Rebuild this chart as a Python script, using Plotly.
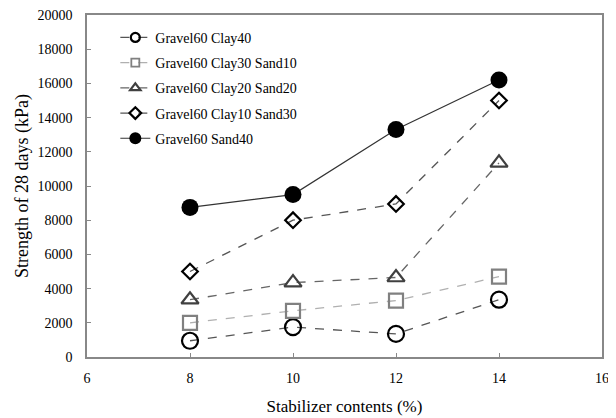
import plotly.graph_objects as go

x_vals = [8, 10, 12, 14]
clay40 = [950, 1750, 1350, 3350]
clay30_sand10 = [2000, 2700, 3300, 4700]
clay20_sand20 = [3350, 4350, 4650, 11350]
clay10_sand30 = [5000, 8000, 8950, 15000]
sand40 = [8750, 9500, 13300, 16200]

names = ["Gravel60 Clay40", "Gravel60 Clay30 Sand10", "Gravel60 Clay20 Sand20",
         "Gravel60 Clay10 Sand30", "Gravel60 Sand40"]
x_ticks = [6, 8, 10, 12, 14, 16]
y_ticks = [0, 2000, 4000, 6000, 8000, 10000, 12000, 14000, 16000, 18000, 20000]
y_ticktext = [str(v) for v in y_ticks]

series = [clay40, clay30_sand10, clay20_sand20, clay10_sand30, sand40]
line_styles = [
    dict(color="#555555", width=1.3, dash="dash"),
    dict(color="#b0b0b0", width=1.3, dash="dash"),
    dict(color="#666666", width=1.3, dash="dash"),
    dict(color="#555555", width=1.3, dash="dash"),
    dict(color="#333333", width=1.2),
]
marker_styles = [
    dict(symbol="circle-open", size=16, color="#000000", line=dict(width=2.2)),
    dict(symbol="square-open", size=14, color="#808080", line=dict(width=2.2)),
    dict(symbol="triangle-up-open", size=15, color="#404040", line=dict(width=2.2)),
    dict(symbol="diamond-open", size=12, color="#000000", line=dict(width=2.2)),
    dict(symbol="circle", size=17, color="#000000"),
]
legend_markers = [
    dict(symbol="circle-open", size=9, color="#000000", line=dict(width=2.2)),
    dict(symbol="square-open", size=8, color="#808080", line=dict(width=1.8)),
    dict(symbol="triangle-up-open", size=9, color="#404040", line=dict(width=2.2)),
    dict(symbol="diamond-open", size=9, color="#000000", line=dict(width=2.2)),
    dict(symbol="circle", size=12, color="#000000"),
]

fig = go.Figure()
for i, (name, ys) in enumerate(zip(names, series)):
    fig.add_trace(go.Scatter(x=x_vals, y=ys, name=name, mode="lines+markers",
                             line=line_styles[i], marker=marker_styles[i],
                             showlegend=False, legendgroup=f"g{i}"))
for i, name in enumerate(names):
    fig.add_trace(go.Scatter(x=[None], y=[None], name=name, mode="lines+markers",
                             line=line_styles[i], marker=legend_markers[i],
                             showlegend=True, legendgroup=f"g{i}"))

font = "Liberation Serif, Times New Roman, serif"
# page body has an 8px margin: compensate in figure size and margins
fig.update_layout(
    width=608, height=410,
    margin=dict(l=79, r=14, t=7, b=61),
    paper_bgcolor="white", plot_bgcolor="white",
    font=dict(family=font, size=14, color="#000000"),
    showlegend=True,
    legend=dict(x=0.055, y=0.98, xanchor="left", yanchor="top",
                bgcolor="rgba(0,0,0,0)", font=dict(family=font, size=14),
                itemwidth=30, tracegroupgap=4),
    xaxis=dict(range=[6, 16], tickvals=x_ticks, ticks="inside", ticklen=4,
               tickcolor="#888888", showgrid=False, zeroline=False, automargin=False,
               showline=True, linecolor="#888888", linewidth=1.5, mirror=True,
               ticklabelstandoff=7, ticklabeloverflow="allow",
               title=dict(text="Stabilizer contents (%)", font=dict(size=17), standoff=16),
               tickfont=dict(size=14)),
    yaxis=dict(range=[0, 20000], tickvals=y_ticks, ticktext=y_ticktext, ticks="inside", ticklen=4,
               tickcolor="#888888", showgrid=False, zeroline=False, automargin=False,
               showline=True, linecolor="#888888", linewidth=1.5, mirror=True,
               ticklabelstandoff=10, ticklabeloverflow="allow",
               title=dict(text="Strength of 28 days (kPa)", font=dict(size=18), standoff=4),
               tickfont=dict(size=14)),
)

fig.write_html("out.html")
